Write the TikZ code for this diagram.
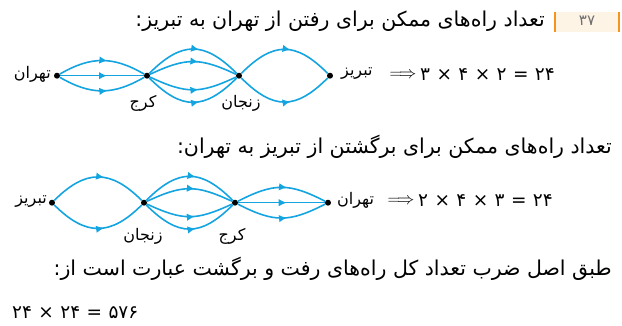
\documentclass[tikz,border=0pt]{standalone}
\usepackage{fontspec}
\usetikzlibrary{arrows.meta,decorations.markings}
\newfontfamily\fafont[Script=Arabic]{DejaVu Sans}
\TeXXeTstate=1
\definecolor{roadblue}{RGB}{20,165,225}
\definecolor{hdrorange}{RGB}{247,148,29}
\definecolor{hdrfill}{RGB}{254,244,230}
\definecolor{hdrgray}{RGB}{110,110,112}
\tikzset{
  dot/.style={circle,fill=black,inner sep=0pt,minimum size=6pt},
  road/.style={draw=roadblue,line width=1.6pt,postaction={decorate},
    decoration={markings,mark=at position 0.56 with {\arrow{Latex[length=8pt,width=7.5pt]}}}},
  fatext/.style={font=\fafont\fontsize{20.5}{24}\selectfont,inner sep=0pt},
  cityname/.style={font=\fafont\fontsize{16}{19}\selectfont,inner sep=0pt},
  eqpart/.style={font=\fafont\fontsize{18.5}{21}\selectfont,inner sep=0pt,anchor=base west},
  impl/.style={inner sep=0pt,font=\fontsize{16}{18}\selectfont}
}
\begin{document}
\begin{tikzpicture}[x=1pt,y=-1pt]
\useasboundingbox (0,0) rectangle (622,326);
% header
\node[fill=hdrfill,minimum width=64pt,minimum height=20pt,inner sep=0pt] (hdr) at (587,22) {};
\draw[hdrorange,line width=2pt] (hdr.north west) -- (hdr.south west);
\draw[hdrorange,line width=2pt] (hdr.north east) -- (hdr.south east);
\node[font=\fafont\fontsize{15}{17}\selectfont,text=hdrgray,inner sep=0pt] (num) at (587,21) {۳۷};
\node[fatext,anchor=east] (title1) at (545,21) {\beginR تعداد راه‌های ممکن برای رفتن از تهران به تبریز:\endR};
% graph 1
\node[dot] (t1) at (57,75.7) {};
\node[dot] (k1) at (147,75.7) {};
\node[dot] (z1) at (239,75.7) {};
\node[dot] (b1) at (330,75.7) {};
\node[cityname,anchor=east] (lt1) at (51,74) {\beginR تهران\endR};
\node[cityname] (lk1) at (143,103) {\beginR کرج\endR};
\node[cityname] (lz1) at (241,103) {\beginR زنجان\endR};
\node[cityname,anchor=west] (lb1) at (341,74) {\beginR تبریز\endR};
\node[impl] (imp1) at (403,75) {$\Longrightarrow$};
\node[eqpart] (a1) at (420,81) {۳};
\node[eqpart] (a2) at ([xshift=6pt]a1.base east) {×};
\node[eqpart] (a3) at ([xshift=6pt]a2.base east) {۴};
\node[eqpart] (a4) at ([xshift=6pt]a3.base east) {×};
\node[eqpart] (a5) at ([xshift=6pt]a4.base east) {۲};
\node[eqpart] (a6) at ([xshift=6pt]a5.base east) {=};
\node[eqpart] (a7) at ([xshift=6pt]a6.base east) {۲۴};
\path[road] (t1) to[out=30,in=150,looseness=1.1] (k1);
\path[road] (t1) -- (k1);
\path[road] (t1) to[out=-30,in=-150,looseness=1.1] (k1);
\path[road] (k1) to[out=45,in=135,looseness=1.35] (z1);
\path[road] (k1) to[out=25,in=155,looseness=1.2] (z1);
\path[road] (k1) to[out=-25,in=-155,looseness=1.2] (z1);
\path[road] (k1) to[out=-45,in=-135,looseness=1.35] (z1);
\path[road] (z1) to[out=45,in=135,looseness=1.35] (b1);
\path[road] (z1) to[out=-45,in=-135,looseness=1.35] (b1);
% title 2
\node[fatext,anchor=east] (title2) at (612,147) {\beginR تعداد راه‌های ممکن برای برگشتن از تبریز به تهران:\endR};
% graph 2
\node[dot] (b2) at (52,202.7) {};
\node[dot] (z2) at (144,202.7) {};
\node[dot] (k2) at (235,202.7) {};
\node[dot] (t2) at (328,202.7) {};
\node[cityname,anchor=east] (lb2) at (47,202) {\beginR تبریز\endR};
\node[cityname] (lz2) at (143,236) {\beginR زنجان\endR};
\node[cityname] (lk2) at (232,236) {\beginR کرج\endR};
\node[cityname,anchor=west] (lt2) at (337,200) {\beginR تهران\endR};
\node[impl] (imp2) at (401,201) {$\Longrightarrow$};
\node[eqpart] (c1) at (418,207) {۲};
\node[eqpart] (c2) at ([xshift=6pt]c1.base east) {×};
\node[eqpart] (c3) at ([xshift=6pt]c2.base east) {۴};
\node[eqpart] (c4) at ([xshift=6pt]c3.base east) {×};
\node[eqpart] (c5) at ([xshift=6pt]c4.base east) {۳};
\node[eqpart] (c6) at ([xshift=6pt]c5.base east) {=};
\node[eqpart] (c7) at ([xshift=6pt]c6.base east) {۲۴};
\path[road] (b2) to[out=45,in=135,looseness=1.3] (z2);
\path[road] (b2) to[out=-45,in=-135,looseness=1.3] (z2);
\path[road] (z2) to[out=45,in=135,looseness=1.35] (k2);
\path[road] (z2) to[out=25,in=155,looseness=1.2] (k2);
\path[road] (z2) to[out=-25,in=-155,looseness=1.2] (k2);
\path[road] (z2) to[out=-45,in=-135,looseness=1.35] (k2);
\path[road] (k2) to[out=27,in=153,looseness=1.2] (t2);
\path[road] (k2) -- (t2);
\path[road] (k2) to[out=-27,in=-153,looseness=1.2] (t2);
% final lines
\node[fatext,anchor=east] (title3) at (612,269) {\beginR طبق اصل ضرب تعداد کل راه‌های رفت و برگشت عبارت است از:\endR};
\node[eqpart] (d1) at (12,319) {۲۴};
\node[eqpart] (d2) at ([xshift=6pt]d1.base east) {×};
\node[eqpart] (d3) at ([xshift=6pt]d2.base east) {۲۴};
\node[eqpart] (d4) at ([xshift=6pt]d3.base east) {=};
\node[eqpart] (d5) at ([xshift=6pt]d4.base east) {۵۷۶};
\end{tikzpicture}
\end{document}
